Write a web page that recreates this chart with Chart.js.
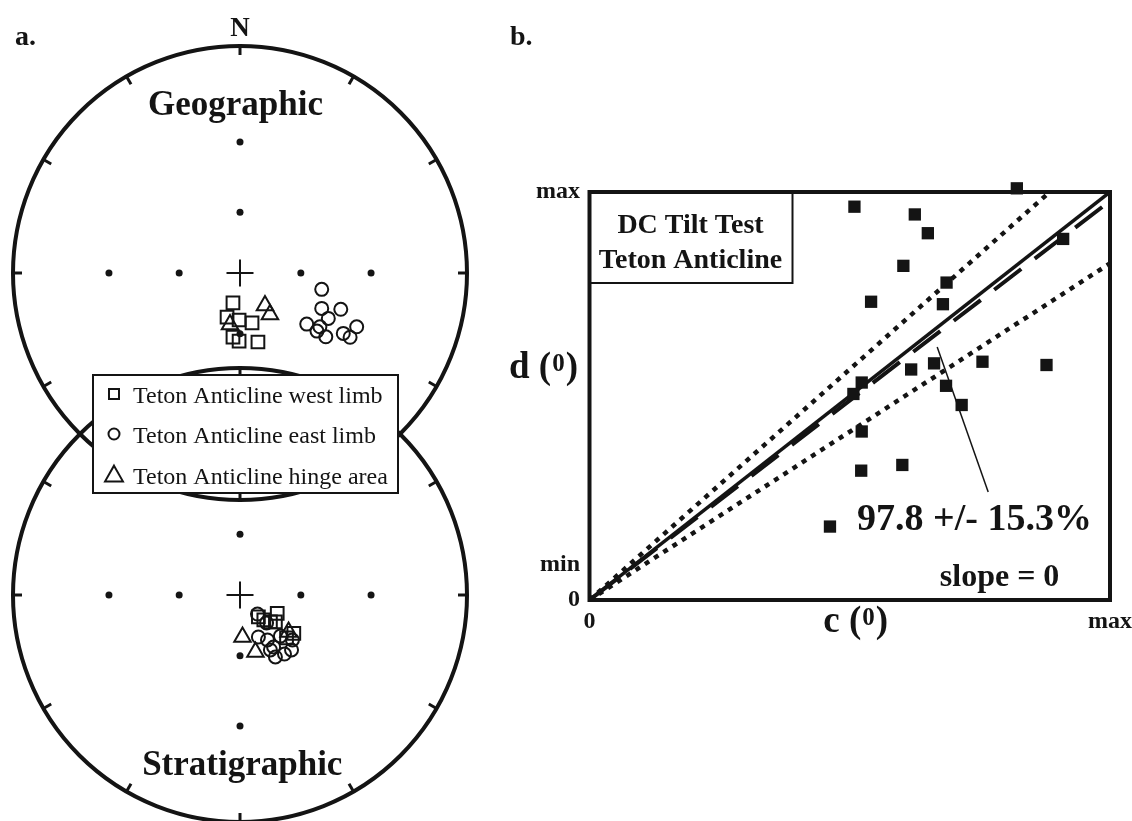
<!DOCTYPE html>
<html>
<head>
<meta charset="utf-8">
<script src="https://cdn.jsdelivr.net/npm/chart.js@4.4.1/dist/chart.umd.min.js"></script>
<style>
  html, body { margin: 0; padding: 0; background: #fff; overflow: hidden; }
  #wrap { position: relative; width: 1132px; height: 821px; }
  #nets { position: absolute; left: 0; top: 0; }
  #tilt { position: absolute; left: 490px; top: 0; }
</style>
</head>
<body>
<div id="wrap">
  <canvas id="nets" width="490" height="821"></canvas>
  <canvas id="tilt" width="642" height="821"></canvas>
</div>
<script>
// ---------- a. stereonet directions (net radius = 100, x = east, y = north) ----------
var geoWest  = [[-3.1,-13.2],[-5.7,-19.4],[-0.4,-20.7],[5.3,-22.0],[-3.1,-28.2],[-0.4,-30.0],[7.9,-30.4]];
var geoEast  = [[36.0,-7.2],[36.0,-15.6],[44.4,-16.0],[38.9,-20.0],[29.4,-22.5],[35.2,-23.7],
                [33.9,-25.6],[37.8,-28.1],[45.5,-26.6],[48.5,-28.3],[51.4,-23.7]];
var geoHinge = [[11.0,-14.3],[13.2,-18.3],[-4.4,-22.7]];

var strWest  = [[16.4,-8.1],[8.1,-9.6],[10.5,-11.0],[13.4,-11.8],[15.6,-11.8],[23.7,-16.9],[20.5,-18.9]];
var strEast  = [[7.7,-8.4],[11.7,-12.3],[8.1,-18.5],[12.1,-19.8],[17.8,-18.1],[14.8,-22.9],
                [23.1,-19.8],[22.7,-24.2],[19.6,-26.0],[15.6,-27.3],[13.4,-24.2]];
var strHinge = [[1.1,-18.5],[6.8,-25.1],[21.4,-16.3]];

var seriesNames = ['Teton Anticline west limb', 'Teton Anticline east limb', 'Teton Anticline hinge area'];
var netNames = ['Geographic', 'Stratigraphic'];
var gridInc = [60, 30];          // inclination rings marked with dots
var gridAz  = [0, 90, 180, 270];

// ---------- b. DC tilt test (normalised c, d) ----------
var cVals = [0.821,0.509,0.625,0.650,0.603,0.686,0.541,0.679,0.910,0.618,0.662,
             0.755,0.878,0.523,0.507,0.685,0.715,0.523,0.522,0.601,0.462];
var dVals = [1.009,0.964,0.945,0.899,0.819,0.778,0.731,0.725,0.885,0.565,0.580,
             0.584,0.576,0.533,0.505,0.525,0.478,0.413,0.317,0.331,0.180];
var slopeFit = 0.978, slopeErr = 0.153, slopeRef = 1.0;
var leaderC = [0.668, 0.766], leaderD = [0.620, 0.265];
var cTickVals = [0, 1],        cTickText = ['0', 'max'];
var dTickVals = [0, 0.086, 1], dTickText = ['0', 'min', 'max'];

var INK = '#141414';
var FONT = '"Liberation Serif", "Times New Roman", serif';

// ---------------------------------------------------------------
// panel a
var PX = 2.27;                       // pixels per net unit
var NET_CX = 240, NET_TOP_CY = 273, NET_BOT_CY = 595;
var BOT = -(NET_BOT_CY - NET_TOP_CY) / PX;   // lower net centre, in net units

function toXY(list, dy) {
    return list.map(function (p) { return { x: p[0], y: p[1] + dy }; });
}

// stereographic (equal-angle) radius for an inclination
function ringDots(dy) {
    var out = [];
    gridInc.forEach(function (inc) {
        var r = 100 * Math.tan((90 - inc) / 2 * Math.PI / 180);
        gridAz.forEach(function (az) {
            var a = az * Math.PI / 180;
            out.push({ x: r * Math.sin(a), y: r * Math.cos(a) + dy });
        });
    });
    return out;
}

function drawIcon(ctx, style, x, y, r) {
    ctx.beginPath();
    if (style === 'rect') {
        ctx.rect(x - r, y - r, 2 * r, 2 * r);
    } else if (style === 'circle') {
        ctx.arc(x, y, r, 0, Math.PI * 2);
    } else {
        ctx.moveTo(x, y - r * 1.1);
        ctx.lineTo(x + r * 1.05, y + r * 0.75);
        ctx.lineTo(x - r * 1.05, y + r * 0.75);
        ctx.closePath();
    }
    ctx.stroke();
}

var stereonetFrame = {
    id: 'stereonetFrame',
    beforeDatasetsDraw: function (chart) {
        var ctx = chart.ctx, xs = chart.scales.x, ys = chart.scales.y;
        var r = xs.getPixelForValue(100) - xs.getPixelForValue(0);
        ctx.save();
        ctx.strokeStyle = INK;
        [0, BOT].forEach(function (dy) {
            var cx = xs.getPixelForValue(0), cy = ys.getPixelForValue(dy);
            ctx.lineWidth = 4;
            ctx.beginPath();
            ctx.arc(cx, cy, r, 0, Math.PI * 2);
            ctx.stroke();
            // ticks every 30 degrees
            ctx.lineWidth = 3;
            for (var az = 0; az < 360; az += 30) {
                var a = az * Math.PI / 180, s = Math.sin(a), c = Math.cos(a);
                ctx.beginPath();
                ctx.moveTo(cx + s * r, cy - c * r);
                ctx.lineTo(cx + s * (r - 9), cy - c * (r - 9));
                ctx.stroke();
            }
        });
        ctx.restore();
    },
    afterDatasetsDraw: function (chart) {
        var ctx = chart.ctx, xs = chart.scales.x, ys = chart.scales.y;
        ctx.save();
        ctx.fillStyle = INK;
        ctx.textAlign = 'center';
        ctx.textBaseline = 'alphabetic';

        ctx.font = 'bold 27px ' + FONT;
        ctx.fillText('N', xs.getPixelForValue(0), 36);
        ctx.textAlign = 'left';
        ctx.font = 'bold 28px ' + FONT;
        ctx.fillText('a.', 15, 45);

        ctx.textAlign = 'center';
        ctx.font = 'bold 35px ' + FONT;
        ctx.fillText(netNames[0], xs.getPixelForValue(-2), ys.getPixelForValue(0) - 158);
        ctx.fillText(netNames[1], xs.getPixelForValue(1), ys.getPixelForValue(BOT) + 180);

        // legend box
        var bx = 93, by = 375, bw = 305, bh = 118;
        ctx.fillStyle = '#fff';
        ctx.fillRect(bx, by, bw, bh);
        ctx.strokeStyle = INK;
        ctx.lineWidth = 2;
        ctx.strokeRect(bx, by, bw, bh);

        var styles = ['rect', 'circle', 'triangle'];
        var sizes = [5, 5.5, 8.5];
        var rows = [403, 443, 484];
        ctx.textAlign = 'left';
        ctx.font = '24px ' + FONT;
        for (var i = 0; i < 3; i++) {
            ctx.lineWidth = 2;
            drawIcon(ctx, styles[i], 114, rows[i] - 9, sizes[i]);
            ctx.fillStyle = INK;
            ctx.fillText(seriesNames[i], 133, rows[i]);
        }
        ctx.restore();
    }
};

var netCanvas = document.getElementById('nets');
var netChart = new Chart(netCanvas, {
    type: 'scatter',
    data: {
        datasets: [
            {
                label: seriesNames[0],
                data: toXY(geoWest, 0).concat(toXY(strWest, BOT)),
                pointStyle: 'rect', pointRadius: 9,
                pointBorderColor: INK, pointBackgroundColor: 'rgba(0,0,0,0)', pointBorderWidth: 2
            },
            {
                label: seriesNames[1],
                data: toXY(geoEast, 0).concat(toXY(strEast, BOT)),
                pointStyle: 'circle', pointRadius: 6.5,
                pointBorderColor: INK, pointBackgroundColor: 'rgba(0,0,0,0)', pointBorderWidth: 2
            },
            {
                label: seriesNames[2],
                data: toXY(geoHinge, 0).concat(toXY(strHinge, BOT)),
                pointStyle: 'triangle', pointRadius: 9.5,
                pointBorderColor: INK, pointBackgroundColor: 'rgba(0,0,0,0)', pointBorderWidth: 2
            },
            {
                label: 'centre',
                data: [{ x: 0, y: 0 }, { x: 0, y: BOT }],
                pointStyle: 'cross', pointRadius: 13.5,
                pointBorderColor: INK, pointBorderWidth: 2
            },
            {
                label: 'rings',
                data: ringDots(0).concat(ringDots(BOT)),
                pointStyle: 'circle', pointRadius: 3.5,
                pointBackgroundColor: INK, pointBorderWidth: 0
            }
        ]
    },
    options: {
        responsive: false,
        animation: false,
        events: [],
        layout: { padding: 0, autoPadding: false },
        plugins: { legend: { display: false }, tooltip: { enabled: false } },
        scales: {
            x: { display: false, min: -NET_CX / PX, max: (netCanvas.width - NET_CX) / PX },
            y: { display: false, min: -(netCanvas.height - NET_TOP_CY) / PX, max: NET_TOP_CY / PX }
        }
    },
    plugins: [stereonetFrame]
});

// ---------------------------------------------------------------
// panel b
function axisTitle(ctx, letter, x, y) {
    // letter, then "(0)" with a raised smaller zero
    ctx.font = 'bold 37px ' + FONT;
    ctx.fillText(letter + ' (', x, y);
    var w = ctx.measureText(letter + ' (').width;
    ctx.font = 'bold 25px ' + FONT;
    ctx.fillText('0', x + w + 1, y - 7);
    var w2 = ctx.measureText('0').width;
    ctx.font = 'bold 37px ' + FONT;
    ctx.fillText(')', x + w + w2 + 2, y);
}

var tiltDecor = {
    id: 'tiltDecor',
    beforeDatasetsDraw: function (chart) {
        var ctx = chart.ctx, a = chart.chartArea;
        ctx.save();
        ctx.strokeStyle = INK;
        ctx.lineWidth = 4;
        ctx.strokeRect(a.left, a.top, a.right - a.left, a.bottom - a.top);

        // title box in the upper-left corner
        ctx.lineWidth = 2;
        ctx.strokeRect(a.left, a.top, 203, 91);
        ctx.fillStyle = INK;
        ctx.textAlign = 'center';
        ctx.font = 'bold 28px ' + FONT;
        ctx.fillText('DC Tilt Test', a.left + 101, a.top + 41);
        ctx.fillText('Teton Anticline', a.left + 101, a.top + 76);
        ctx.restore();
    },
    afterDatasetsDraw: function (chart) {
        var ctx = chart.ctx, xs = chart.scales.x, ys = chart.scales.y;
        ctx.save();
        ctx.fillStyle = INK;
        ctx.textAlign = 'left';
        ctx.textBaseline = 'alphabetic';

        ctx.font = 'bold 28px ' + FONT;
        ctx.fillText('b.', 20, 45);

        ctx.font = 'bold 38px ' + FONT;
        var label = (slopeFit * 100).toFixed(1) + ' +/- ' + (slopeErr * 100).toFixed(1) + '%';
        ctx.fillText(label, xs.getPixelForValue(0.514), ys.getPixelForValue(0.172));

        ctx.font = 'bold 32px ' + FONT;
        ctx.fillText('slope = 0', xs.getPixelForValue(0.673), ys.getPixelForValue(0.034));

        axisTitle(ctx, 'd', 19, ys.getPixelForValue(0.545));
        axisTitle(ctx, 'c', xs.getPixelForValue(0.449), 632);
        ctx.restore();
    }
};

function lineSet(label, pts, width, dash) {
    return {
        label: label,
        data: pts,
        showLine: true,
        pointRadius: 0,
        borderColor: INK,
        borderWidth: width,
        borderDash: dash,
        borderCapStyle: 'butt',
        fill: false
    };
}

var tiltChart = new Chart(document.getElementById('tilt'), {
    type: 'scatter',
    data: {
        datasets: [
            {
                label: 'sites',
                data: cVals.map(function (c, i) { return { x: c, y: dVals[i] }; }),
                pointStyle: 'rect', pointRadius: 8.7,
                pointBackgroundColor: INK, pointBorderWidth: 0,
                clip: false
            },
            lineSet('leader', [{ x: leaderC[0], y: leaderD[0] }, { x: leaderC[1], y: leaderD[1] }], 1.5, []),
            lineSet('reference', [{ x: 0, y: 0 }, { x: 1, y: slopeRef }], 3.5, []),
            lineSet('fit', [{ x: 0, y: 0 }, { x: 1, y: slopeFit }], 4, [34, 17]),
            lineSet('upper', [{ x: 0, y: 0 }, { x: 1, y: slopeFit + slopeErr }], 4.5, [5, 6]),
            lineSet('lower', [{ x: 0, y: 0 }, { x: 1, y: slopeFit - slopeErr }], 4.5, [5, 6])
        ]
    },
    options: {
        responsive: false,
        animation: false,
        events: [],
        layout: { padding: { left: 39.5, right: 22, top: 192, bottom: 181 }, autoPadding: false },
        plugins: { legend: { display: false }, tooltip: { enabled: false } },
        scales: {
            x: {
                type: 'linear', min: 0, max: 1,
                grid: { display: false, drawTicks: true, tickLength: 7 },
                border: { display: false },
                afterBuildTicks: function (s) { s.ticks = cTickVals.map(function (v) { return { value: v }; }); },
                afterFit: function (s) { s.height = 40; },
                ticks: {
                    padding: 0, color: INK, maxRotation: 0, autoSkip: false,
                    font: { family: FONT, weight: 'bold', size: 24 },
                    callback: function (v) { return cTickText[cTickVals.indexOf(v)]; }
                }
            },
            y: {
                type: 'linear', min: 0, max: 1,
                grid: { display: false, drawTicks: false },
                border: { display: false },
                afterBuildTicks: function (s) { s.ticks = dTickVals.map(function (v) { return { value: v }; }); },
                afterFit: function (s) { s.width = 60; },
                ticks: {
                    padding: 9.5, color: INK, autoSkip: false,
                    font: { family: FONT, weight: 'bold', size: 24 },
                    callback: function (v) { return dTickText[dTickVals.indexOf(v)]; }
                }
            }
        }
    },
    plugins: [tiltDecor]
});
</script>
</body>
</html>
